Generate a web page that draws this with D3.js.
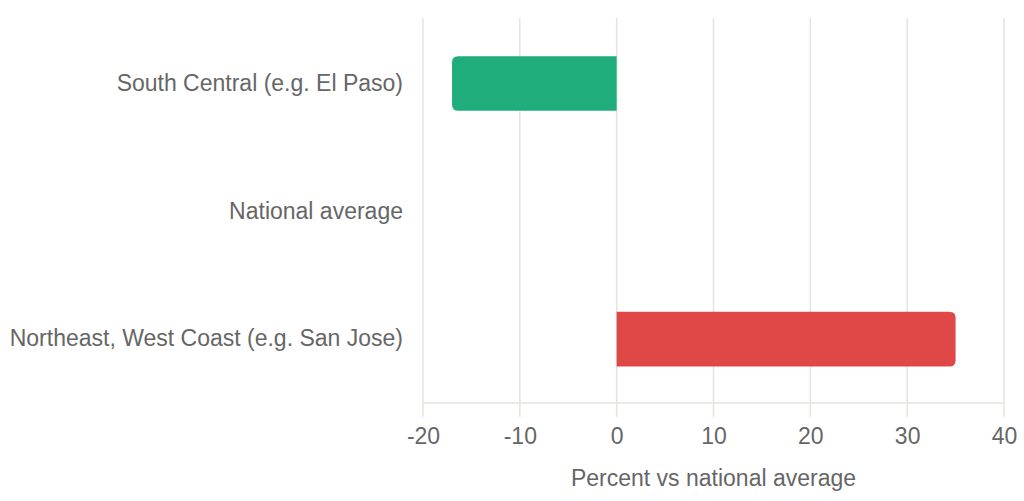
<!DOCTYPE html>
<html>
<head>
<meta charset="utf-8">
<script src="https://cdn.jsdelivr.net/npm/d3@7"></script>
<style>
  body { margin: 0; background: #fff; }
  svg { display: block; font-family: "Liberation Sans", Arial, sans-serif; }
</style>
</head>
<body>
<div id="chart"></div>
<script>
const regions = ['South Central (e.g. El Paso)', 'National average', 'Northeast, West Coast (e.g. San Jose)'];
const pctVsNational = [-17, 0, 35];
const barColors = ['#1fae7b', '#1fae7b', '#e04848'];
const xTicks = [-20, -10, 0, 10, 20, 30, 40];

const width = 1024;
const height = 501;
const margin = { top: 18, right: 20, bottom: 98, left: 423 };
const fontSize = '23px';

const svg = d3.select('#chart')
  .append('svg')
  .attr('width', width)
  .attr('height', height);

const x = d3.scaleLinear()
  .domain([-20, 40])
  .range([margin.left, 1004]);

const y = d3.scaleBand()
  .domain(regions)
  .range([19.6, 403])
  .paddingInner(0.573)
  .paddingOuter(0.2865);

// grid lines
svg.append('g')
  .selectAll('line')
  .data(xTicks)
  .join('line')
    .attr('x1', d => x(d))
    .attr('x2', d => x(d))
    .attr('y1', margin.top)
    .attr('y2', 417)
    .attr('stroke', '#e3e3df')
    .attr('stroke-width', 1.5);

// bars, rounded only on the far end
function barPath(v, i) {
  const r = 6;
  const y0 = y(regions[i]), h = y.bandwidth();
  const x0 = x(0), x1 = x(v);
  if (v === 0) return '';
  const s = v > 0 ? 1 : -1;
  return `M${x0},${y0}` +
    `H${x1 - s * r}` +
    `Q${x1},${y0} ${x1},${y0 + r}` +
    `V${y0 + h - r}` +
    `Q${x1},${y0 + h} ${x1 - s * r},${y0 + h}` +
    `H${x0}Z`;
}

svg.append('g')
  .selectAll('path')
  .data(pctVsNational)
  .join('path')
    .attr('d', (d, i) => barPath(d, i))
    .attr('fill', (d, i) => barColors[i]);

// x axis
svg.append('line')
  .attr('x1', margin.left)
  .attr('x2', 1004)
  .attr('y1', 403)
  .attr('y2', 403)
  .attr('stroke', '#e3e3df')
  .attr('stroke-width', 1.5);

svg.append('g')
  .attr('transform', 'translate(0,403)')
  .call(d3.axisBottom(x).tickValues(xTicks).tickSize(0).tickPadding(25).tickFormat(d => d))
  .call(g => g.select('.domain').remove())
  .call(g => g.selectAll('text').attr('font-size', fontSize).attr('fill', '#666').attr('font-family', '"Liberation Sans", Arial, sans-serif'));

// y axis labels
svg.append('g')
  .attr('transform', `translate(${margin.left},0)`)
  .call(d3.axisLeft(y).tickSize(0).tickPadding(20))
  .call(g => g.select('.domain').remove())
  .call(g => g.selectAll('text').attr('font-size', fontSize).attr('fill', '#666').attr('font-family', '"Liberation Sans", Arial, sans-serif'));

svg.append('text')
  .attr('x', (x(-20) + x(40)) / 2)
  .attr('y', 486)
  .attr('text-anchor', 'middle')
  .attr('font-size', fontSize)
  .attr('fill', '#666')
  .text('Percent vs national average');
</script>
</body>
</html>
